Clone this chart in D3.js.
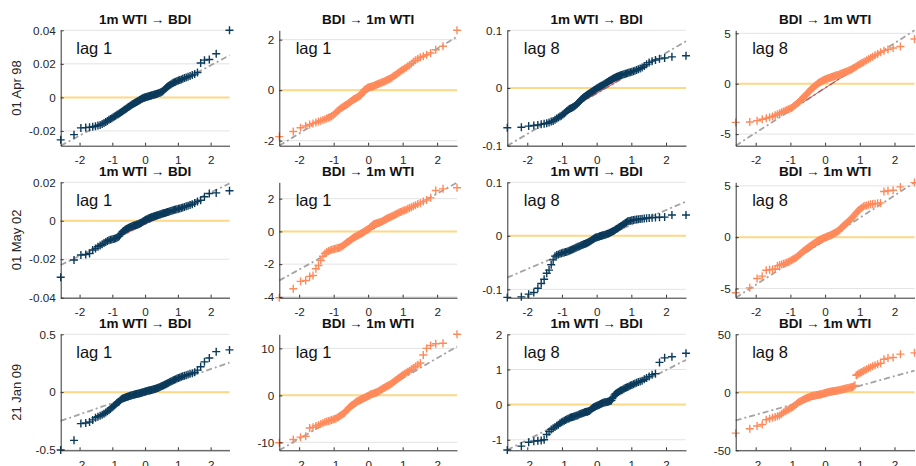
<!DOCTYPE html>
<html>
<head>
<meta charset="utf-8">
<script src="https://cdn.jsdelivr.net/npm/d3@7"></script>
<style>
html,body{margin:0;padding:0;background:#fff;}
svg{display:block;}
</style>
</head>
<body>
<svg id="chart" width="916" height="466"></svg>
<script>
// ---------------- DATA ----------------
const rowLabels = ["01 Apr 98", "01 May 02", "21 Jan 09"];
const colTitles = ["1m WTI \u2192 BDI", "BDI \u2192 1m WTI", "1m WTI \u2192 BDI", "BDI \u2192 1m WTI"];
const colLags = ["lag 1", "lag 1", "lag 8", "lag 8"];
const xTicks = [-2, -1, 0, 1, 2];

// sorted sample quantiles (100 per panel), row-major
const r1c1 = [-25.3,-22.2,-18.2,-18.0,-17.8,-17.5,-17.2,-16.8,-16.4,-15.8,-15.2,-14.6,-14.0,-13.4,-12.9,-12.4,-11.9,-11.4,-10.9,-10.4,-10.0,-9.6,-9.1,-8.7,-8.2,-7.8,-7.4,-7.0,-6.6,-6.2,-5.8,-5.4,-5.0,-4.7,-4.3,-4.0,-3.7,-3.3,-3.0,-2.7,-2.4,-2.1,-1.8,-1.5,-1.2,-0.9,-0.6,-0.4,-0.2,0.0,0.15,0.3,0.45,0.6,0.75,0.9,1.05,1.2,1.3,1.45,1.6,1.75,1.9,2.05,2.2,2.4,2.6,2.8,3.0,3.3,3.6,4.2,4.8,5.4,6.0,6.5,7.0,7.4,7.9,8.3,8.7,9.0,9.4,9.7,10.0,10.3,10.7,11.1,11.5,11.9,12.3,12.8,13.3,13.9,14.8,20.5,22.2,22.6,26.0,40.0].map(v => v / 1000);
const r1c2 = [-1.84,-1.64,-1.49,-1.42,-1.36,-1.32,-1.28,-1.24,-1.21,-1.18,-1.15,-1.12,-1.09,-1.06,-1.03,-0.99,-0.94,-0.89,-0.84,-0.80,-0.76,-0.72,-0.69,-0.66,-0.63,-0.60,-0.58,-0.55,-0.52,-0.49,-0.46,-0.43,-0.40,-0.37,-0.35,-0.33,-0.31,-0.29,-0.27,-0.24,-0.22,-0.20,-0.15,-0.10,-0.05,0.00,0.03,0.05,0.07,0.09,0.10,0.11,0.12,0.13,0.14,0.15,0.16,0.18,0.20,0.21,0.23,0.24,0.26,0.27,0.29,0.30,0.32,0.33,0.35,0.37,0.39,0.41,0.43,0.45,0.47,0.50,0.54,0.57,0.60,0.63,0.67,0.71,0.75,0.79,0.82,0.86,0.90,0.95,0.99,1.05,1.12,1.18,1.24,1.30,1.34,1.40,1.47,1.60,1.74,2.37];
const r1c3 = [-69,-68,-66,-65,-64,-63,-62,-61,-60,-58,-57,-55,-53,-51,-49.5,-48,-46,-44,-42,-40,-38,-36.5,-35.5,-34.5,-33.5,-32.5,-31,-29.5,-28,-26,-24.5,-22.5,-20.5,-19,-17.5,-16,-15,-14,-12.5,-11.5,-10.5,-9.5,-8.5,-7.5,-6.5,-5.5,-4.5,-3.5,-2.5,-1.5,-0.5,0.5,1.3,2.1,2.9,3.7,4.5,5.5,6.5,7.5,8.5,9.5,10.5,11.5,12.5,13.5,14.5,15.5,16.5,17.5,18.3,19.0,19.8,20.5,21.2,22.0,22.7,23.4,24.0,24.6,25.3,26.0,26.8,27.5,28.3,29.1,30.0,31.2,32.5,34.0,35.5,38.0,41.0,44.0,46.5,48.5,50.5,52.0,54.0,56.0].map(v => v / 1000);
const r1c4 = [-3.84,-3.80,-3.67,-3.52,-3.42,-3.33,-3.25,-3.13,-3.02,-2.93,-2.84,-2.75,-2.68,-2.61,-2.54,-2.48,-2.42,-2.33,-2.22,-2.12,-2.02,-1.92,-1.81,-1.70,-1.59,-1.48,-1.37,-1.26,-1.16,-1.06,-0.96,-0.86,-0.76,-0.65,-0.53,-0.45,-0.37,-0.29,-0.22,-0.15,-0.08,-0.01,0.06,0.12,0.18,0.23,0.28,0.32,0.36,0.40,0.44,0.47,0.50,0.53,0.56,0.59,0.62,0.66,0.69,0.72,0.75,0.78,0.81,0.84,0.87,0.90,0.94,0.98,1.02,1.06,1.10,1.13,1.17,1.22,1.27,1.32,1.36,1.40,1.48,1.56,1.64,1.72,1.80,1.88,1.96,2.05,2.14,2.22,2.33,2.44,2.55,2.68,2.82,2.95,3.12,3.28,3.40,3.54,3.70,4.44];
const r2c1 = [-29.4,-20.4,-17.8,-17.5,-17.0,-15.2,-14.4,-13.5,-12.8,-12.2,-11.6,-11.0,-10.5,-10.1,-9.9,-9.7,-9.5,-9.3,-9.1,-8.8,-8.4,-8.0,-7.2,-6.4,-5.7,-5.3,-4.9,-4.6,-4.3,-4.0,-3.8,-3.5,-3.3,-3.1,-2.9,-2.7,-2.5,-2.4,-2.3,-2.1,-2.0,-1.8,-1.6,-1.4,-1.2,-1.0,-0.7,-0.4,-0.1,0.2,0.4,0.6,0.8,1.0,1.2,1.4,1.6,1.8,1.9,2.1,2.2,2.4,2.5,2.7,2.8,3.0,3.1,3.3,3.4,3.6,3.8,3.9,4.1,4.2,4.4,4.5,4.7,4.9,5.1,5.3,5.5,5.7,5.8,6.0,6.2,6.4,6.6,6.9,7.2,7.5,7.8,8.2,8.6,9.2,10.0,10.7,12.5,14.2,14.5,15.6].map(v => v / 1000);
const r2c2 = [-4.05,-3.50,-3.05,-3.00,-2.75,-2.69,-2.28,-2.08,-1.78,-1.52,-1.35,-1.26,-1.20,-1.15,-1.12,-1.09,-1.07,-1.05,-1.03,-1.01,-0.99,-0.96,-0.91,-0.86,-0.80,-0.75,-0.70,-0.65,-0.61,-0.57,-0.52,-0.48,-0.43,-0.39,-0.36,-0.33,-0.30,-0.27,-0.24,-0.21,-0.17,-0.14,-0.11,-0.08,-0.05,-0.02,0.02,0.05,0.08,0.11,0.15,0.20,0.25,0.30,0.35,0.39,0.43,0.45,0.47,0.49,0.51,0.52,0.54,0.56,0.58,0.61,0.64,0.67,0.71,0.75,0.78,0.81,0.84,0.87,0.90,0.93,0.96,0.99,1.03,1.07,1.11,1.15,1.18,1.22,1.26,1.30,1.33,1.38,1.43,1.48,1.53,1.60,1.67,1.73,1.82,1.92,2.05,2.50,2.60,2.67];
const r2c3 = [-115,-114,-109,-106,-98,-89,-81,-70,-64,-54,-45,-38,-36,-35,-33.5,-32.5,-31.8,-31,-30.3,-29.6,-29,-28,-27,-26,-25,-24,-23,-22.2,-21.4,-20.6,-19.8,-19,-18,-17.3,-16.6,-15.9,-15.2,-14.5,-13.7,-12.9,-12,-11,-10,-9,-8,-7,-5.7,-4.4,-3.8,-3.2,-2.6,-2.0,-1.5,-1.0,-0.5,0,0.5,1.0,1.5,2.0,2.6,3.2,3.7,4.5,5.3,6.1,7.0,7.9,8.9,10.0,11.3,12.6,13.9,15.2,16.5,17.8,19.0,20.6,22.2,23.8,25.4,27.0,27.7,28.3,28.9,29.5,30.0,30.5,31.0,31.5,32.0,32.5,33.0,33.5,34.0,34.3,34.6,35.0,39.0,39.0].map(v => v / 1000);
const r2c4 = [-5.42,-4.94,-4.03,-3.80,-3.23,-3.18,-3.14,-3.10,-2.80,-2.72,-2.66,-2.60,-2.54,-2.48,-2.41,-2.34,-2.26,-2.18,-2.10,-2.02,-1.95,-1.87,-1.77,-1.67,-1.57,-1.48,-1.38,-1.29,-1.22,-1.15,-1.08,-1.01,-0.94,-0.87,-0.80,-0.74,-0.68,-0.62,-0.56,-0.50,-0.44,-0.38,-0.32,-0.28,-0.24,-0.20,-0.16,-0.12,-0.09,-0.06,-0.02,0.02,0.06,0.09,0.12,0.16,0.20,0.23,0.28,0.33,0.38,0.43,0.48,0.54,0.60,0.65,0.74,0.84,0.94,1.04,1.14,1.23,1.32,1.41,1.50,1.59,1.68,1.77,1.92,2.07,2.22,2.37,2.52,2.64,2.76,2.88,2.98,3.06,3.10,3.15,3.20,3.24,3.27,3.30,3.34,4.45,4.52,4.58,4.90,5.32];
const r3c1 = [-0.500,-0.417,-0.272,-0.267,-0.258,-0.240,-0.222,-0.212,-0.204,-0.196,-0.186,-0.176,-0.166,-0.156,-0.145,-0.134,-0.124,-0.114,-0.104,-0.095,-0.087,-0.080,-0.070,-0.061,-0.055,-0.052,-0.049,-0.046,-0.043,-0.040,-0.037,-0.034,-0.031,-0.029,-0.027,-0.025,-0.023,-0.021,-0.019,-0.017,-0.015,-0.013,-0.011,-0.009,-0.007,-0.005,-0.003,-0.001,0.001,0.003,0.005,0.007,0.009,0.011,0.013,0.015,0.017,0.019,0.021,0.023,0.025,0.027,0.029,0.032,0.035,0.038,0.041,0.044,0.048,0.052,0.056,0.060,0.064,0.068,0.072,0.077,0.082,0.087,0.092,0.097,0.102,0.107,0.112,0.117,0.122,0.127,0.132,0.137,0.142,0.147,0.152,0.158,0.164,0.172,0.190,0.220,0.262,0.295,0.350,0.365];
const r3c2 = [-10.1,-9.4,-8.9,-8.7,-6.95,-6.8,-6.5,-6.3,-6.1,-5.9,-5.7,-5.55,-5.45,-5.35,-5.25,-5.15,-5.05,-4.92,-4.78,-4.6,-4.42,-4.24,-4.06,-3.9,-3.74,-3.5,-3.25,-3.0,-2.76,-2.55,-2.34,-2.18,-2.03,-1.88,-1.73,-1.58,-1.43,-1.28,-1.18,-1.08,-0.98,-0.89,-0.80,-0.72,-0.64,-0.57,-0.47,-0.37,-0.27,-0.17,-0.07,0.04,0.14,0.21,0.28,0.35,0.42,0.49,0.56,0.63,0.71,0.83,0.95,1.07,1.19,1.32,1.44,1.56,1.68,1.80,1.92,2.04,2.16,2.28,2.41,2.59,2.77,2.95,3.14,3.33,3.54,3.75,3.96,4.18,4.40,4.61,4.82,5.03,5.25,5.55,5.85,6.17,6.5,6.9,8.6,10.0,10.6,11.0,11.1,13.0];
const r3c3 = [-1.29,-1.18,-1.07,-1.04,-1.03,-1.02,-1.00,-0.85,-0.77,-0.71,-0.67,-0.64,-0.60,-0.57,-0.53,-0.50,-0.48,-0.46,-0.44,-0.42,-0.40,-0.39,-0.37,-0.36,-0.35,-0.34,-0.33,-0.32,-0.31,-0.30,-0.28,-0.27,-0.26,-0.25,-0.24,-0.23,-0.22,-0.21,-0.205,-0.20,-0.19,-0.18,-0.16,-0.14,-0.12,-0.10,-0.085,-0.07,-0.055,-0.04,-0.03,-0.02,-0.01,0.00,0.015,0.03,0.04,0.05,0.06,0.065,0.07,0.075,0.08,0.09,0.10,0.11,0.12,0.17,0.22,0.27,0.30,0.32,0.34,0.36,0.38,0.40,0.41,0.43,0.45,0.47,0.49,0.50,0.52,0.54,0.56,0.58,0.60,0.62,0.64,0.66,0.68,0.72,0.76,0.80,0.85,0.88,1.20,1.33,1.36,1.46];
const r3c4 = [-35.2,-31.4,-29.1,-27.7,-23.6,-22.8,-22.0,-21.3,-20.6,-19.9,-18.7,-17.5,-16.4,-15.6,-14.8,-14.0,-13.3,-12.6,-11.8,-11.0,-10.1,-9.2,-8.4,-7.9,-7.4,-6.9,-6.4,-5.9,-5.5,-5.2,-4.8,-4.5,-4.2,-3.8,-3.5,-3.2,-3.0,-2.9,-2.7,-2.6,-2.4,-2.3,-2.1,-2.0,-1.8,-1.6,-1.4,-1.2,-1.0,-0.8,-0.6,-0.4,-0.2,0.0,0.2,0.4,0.5,0.7,0.9,1.0,1.1,1.2,1.35,1.5,1.6,1.7,1.9,2.1,2.3,2.6,2.8,3.0,3.2,3.4,3.6,3.9,4.1,4.4,4.6,5.2,6.0,14.7,15.4,16.1,16.8,17.5,18.3,19.0,19.8,20.7,21.6,22.5,23.3,24.2,25.0,28.5,29.5,30.0,32.9,34.0];

const samples = [r1c1, r1c2, r1c3, r1c4, r2c1, r2c2, r2c3, r2c4, r3c1, r3c2, r3c3, r3c4];

// y-axis limits per panel
const yDomains = [
  [-0.0288, 0.040], [-2.2, 2.37], [-0.1, 0.1], [-6.15, 5.3],
  [-0.04, 0.02], [-4.05, 3.0], [-0.1156, 0.1], [-5.9, 5.35],
  [-0.503, 0.5], [-11.7, 13.0], [-1.3, 2.0], [-50, 50]
];
// y tick values per panel
const yTicks = [
  [-0.02, 0, 0.02, 0.04], [-2, 0, 2], [-0.1, 0, 0.1], [-5, 0, 5],
  [-0.04, -0.02, 0, 0.02], [-4, -2, 0, 2], [-0.1, 0, 0.1], [-5, 0, 5],
  [-0.5, 0, 0.5], [-10, 0, 10], [-1, 0, 1, 2], [-50, 0, 50]
];
// reference line values at the lowest and highest theoretical quantile
const refLines = [
  [-0.0288, 0.0251], [-2.2, 2.12], [-0.1, 0.081], [-6.15, 5.3],
  [-0.023, 0.0194], [-3.0, 2.98], [-0.078, 0.064], [-5.9, 5.32],
  [-0.249, 0.255], [-11.7, 10.4], [-1.29, 1.27], [-24.2, 18.7]
];

// ---------------- HELPERS ----------------
// inverse standard normal CDF (Acklam) for theoretical quantiles
function normInv(p) {
  const a = [-3.969683028665376e+01, 2.209460984245205e+02, -2.759285104469687e+02, 1.383577518672690e+02, -3.066479806614716e+01, 2.506628277459239e+00];
  const b = [-5.447609879822406e+01, 1.615858368580409e+02, -1.556989798598866e+02, 6.680131188771972e+01, -1.328068155288572e+01];
  const c = [-7.784894002430293e-03, -3.223964580411365e-01, -2.400758277161838e+00, -2.549732539343734e+00, 4.374664141464968e+00, 2.938163982698783e+00];
  const d = [7.784695709041462e-03, 3.224671290700398e-01, 2.445134137142996e+00, 3.754408661907416e+00];
  const pl = 0.02425, ph = 1 - pl;
  let q, r;
  if (p < pl) { q = Math.sqrt(-2 * Math.log(p)); return (((((c[0]*q+c[1])*q+c[2])*q+c[3])*q+c[4])*q+c[5]) / ((((d[0]*q+d[1])*q+d[2])*q+d[3])*q+1); }
  if (p <= ph) { q = p - 0.5; r = q*q; return (((((a[0]*r+a[1])*r+a[2])*r+a[3])*r+a[4])*r+a[5])*q / (((((b[0]*r+b[1])*r+b[2])*r+b[3])*r+b[4])*r+1); }
  q = Math.sqrt(-2 * Math.log(1 - p)); return -(((((c[0]*q+c[1])*q+c[2])*q+c[3])*q+c[4])*q+c[5]) / ((((d[0]*q+d[1])*q+d[2])*q+d[3])*q+1);
}

// ---------------- LAYOUT ----------------
const colX = [[60.7, 229.5], [279.3, 457], [507.3, 686], [735.7, 914.5]];
const rowY = [[30.3, 145.7], [182.3, 297.7], [334.3, 450.3]];
const colColors = ["#0b3a5b", "#ff8a5b", "#0b3a5b", "#ff8a5b"];
const FONT = "'Liberation Sans', Arial, Helvetica, sans-serif";

const svg = d3.select("#chart");

function fmt(v) { return String(v); }

rowY.forEach((ry, r) => {
  svg.append("text")
    .attr("transform", `translate(16,${(ry[0] + ry[1]) / 2}) rotate(-90)`)
    .attr("text-anchor", "middle")
    .attr("dominant-baseline", "central")
    .attr("font-family", FONT).attr("font-size", 13).attr("fill", "#262626")
    .text(rowLabels[r]);

  colX.forEach((cx, c) => {
    const p = r * 4 + c;
    const ys = samples[p];
    const n = ys.length;
    const qx = d3.range(n).map(i => normInv((i + 0.5) / n));
    const x = d3.scaleLinear().domain([qx[0], qx[n - 1]]).range(cx);
    const y = d3.scaleLinear().domain(yDomains[p]).range([ry[1], ry[0]]);
    const g = svg.append("g");

    // grid
    g.selectAll("line.grid").data(yTicks[p]).join("line")
      .attr("x1", cx[0]).attr("x2", cx[1])
      .attr("y1", d => y(d)).attr("y2", d => y(d))
      .attr("stroke", "#e3e3e3").attr("stroke-width", 1);

    // zero line
    g.append("line")
      .attr("x1", cx[0]).attr("x2", cx[1]).attr("y1", y(0)).attr("y2", y(0))
      .attr("stroke", "#fdd886").attr("stroke-width", 2);

    // reference line (extended, dash-dot)
    const ref = refLines[p];
    const slope = (ref[1] - ref[0]) / (qx[n - 1] - qx[0]);
    const refY = t => ref[0] + slope * (t - qx[0]);
    g.append("line")
      .attr("x1", x(qx[0])).attr("x2", x(qx[n - 1]))
      .attr("y1", y(refY(qx[0]))).attr("y2", y(refY(qx[n - 1])))
      .attr("stroke", "#a3a3a3").attr("stroke-width", 1.8)
      .attr("stroke-dasharray", "6,3,2,3");
    // quartile segment
    g.append("line")
      .attr("x1", x(-0.6745)).attr("x2", x(0.6745))
      .attr("y1", y(refY(-0.6745))).attr("y2", y(refY(0.6745)))
      .attr("stroke", "#d42a2a").attr("stroke-width", 0.8);

    // markers
    g.selectAll("path.pt").data(ys).join("path")
      .attr("d", "M-4,0H4M0,-4V4")
      .attr("transform", (d, i) => `translate(${x(qx[i])},${y(d)})`)
      .attr("stroke", colColors[c]).attr("stroke-width", 1.4).attr("fill", "none");

    // axes
    const ya = g.append("g").attr("transform", `translate(${cx[0]},0)`)
      .call(d3.axisLeft(y).tickValues(yTicks[p]).tickFormat(fmt).tickSizeInner(-3).tickSizeOuter(0).tickPadding(5));
    const xa = g.append("g").attr("transform", `translate(0,${ry[1]})`)
      .call(d3.axisBottom(x).tickValues(xTicks).tickFormat(fmt).tickSizeInner(-3).tickSizeOuter(0).tickPadding(10));
    [ya, xa].forEach(a => {
      a.select(".domain").attr("stroke", "#333").attr("stroke-width", 1);
      a.selectAll(".tick line").attr("stroke", "#333");
      a.selectAll(".tick text").attr("fill", "#262626").attr("font-family", FONT).attr("font-size", 11.7);
    });

    // title
    g.append("text")
      .attr("x", (cx[0] + cx[1]) / 2).attr("y", ry[0] - 6)
      .attr("text-anchor", "middle")
      .attr("font-family", FONT).attr("font-size", 13.5).attr("font-weight", "bold").attr("fill", "#111")
      .text(colTitles[c]);

    // lag label
    g.append("text")
      .attr("x", x(-2.1)).attr("y", ry[0] + 24)
      .attr("font-family", FONT).attr("font-size", 16.5).attr("fill", "#111")
      .text(colLags[c]);
  });
});
</script>
</body>
</html>
